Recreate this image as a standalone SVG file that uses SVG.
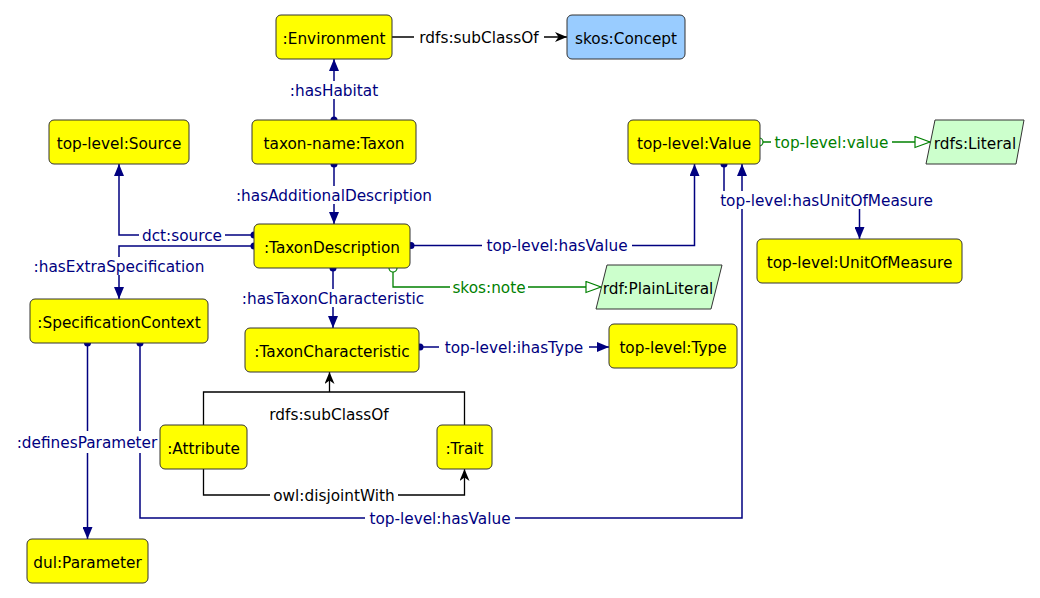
<svg xmlns="http://www.w3.org/2000/svg" width="1040" height="598" viewBox="0 0 1040 598">
<defs>
<style>
text{font-family:"DejaVu Sans","Liberation Sans",sans-serif;font-size:15.3px;text-anchor:middle}
.node rect{fill:#ffff00;stroke:#333;stroke-width:1}
.node .blue{fill:#99ccff}
.node polygon{fill:#ccffcc;stroke:#333;stroke-width:1}
.node text{fill:#000}
.obj{fill:none;stroke:#000080;stroke-width:1.5}
.dat{fill:none;stroke:#008000;stroke-width:1.3}
.sub{fill:none;stroke:#000;stroke-width:1.3}
.dot{fill:#000080;stroke:none}
.odot{fill:#fff;stroke:#008000;stroke-width:1.2}
.lbl rect{fill:#fff;stroke:none}
.ln{fill:#000080}
.lg{fill:#008000}
.lk{fill:#000}
</style>
<marker id="aNavy" viewBox="0 0 12 10" refX="12" refY="5" markerWidth="12" markerHeight="10" markerUnits="userSpaceOnUse" orient="auto"><path d="M0,0 L12,5 L0,10 z" fill="#000080"/></marker>
<marker id="aBlack" viewBox="0 0 12 10" refX="12" refY="5" markerWidth="12" markerHeight="10" markerUnits="userSpaceOnUse" orient="auto"><path d="M0,0 L12,5 L0,10 L3.5,5 z" fill="#000"/></marker>
<marker id="aOpen" viewBox="-1 -1 17 13" refX="15" refY="5.5" markerWidth="17" markerHeight="13" markerUnits="userSpaceOnUse" orient="auto"><path d="M0,0 L15,5.5 L0,11 z" fill="#fff" stroke="#008000" stroke-width="1.2"/></marker>
</defs>
<rect width="1040" height="598" fill="#fff"/>

<g id="connectors">
<path class="sub" d="M392,37 H567" marker-end="url(#aBlack)"/>
<path class="obj" d="M334,120 V59" marker-end="url(#aNavy)"/>
<path class="obj" d="M334,164 V224" marker-end="url(#aNavy)"/>
<path class="obj" d="M254,235 H119 V164" marker-end="url(#aNavy)"/>
<path class="obj" d="M254,246 H119 V299" marker-end="url(#aNavy)"/>
<path class="obj" d="M333,268 V328" marker-end="url(#aNavy)"/>
<path class="obj" d="M411,245.5 H694.5 V164" marker-end="url(#aNavy)"/>
<path class="dat" d="M393,272 V287 H601" marker-end="url(#aOpen)"/>
<path class="dat" d="M763,142 H930" marker-end="url(#aOpen)"/>
<path class="obj" d="M724,164 V200 H859.5 V239" marker-end="url(#aNavy)"/>
<path class="obj" d="M420,347 H609" marker-end="url(#aNavy)"/>
<path class="sub" d="M203.5,425 V392 H464.5 V425"/>
<path class="sub" d="M329.5,392 V372" marker-end="url(#aBlack)"/>
<path class="sub" d="M203.5,469 V495 H464.5 V469" marker-end="url(#aBlack)"/>
<path class="obj" d="M87.5,343 V539" marker-end="url(#aNavy)"/>
<path class="obj" d="M140,343 V518 H742 V164" marker-end="url(#aNavy)"/>
<circle class="dot" cx="334" cy="120" r="3.5"/>
<circle class="dot" cx="334" cy="164" r="3.5"/>
<circle class="dot" cx="254" cy="235" r="3.5"/>
<circle class="dot" cx="254" cy="246" r="3.5"/>
<circle class="dot" cx="333" cy="268" r="3.5"/>
<circle class="dot" cx="411" cy="245.5" r="3.5"/>
<circle class="dot" cx="724" cy="164" r="3.5"/>
<circle class="dot" cx="420" cy="347" r="3.5"/>
<circle class="dot" cx="87.5" cy="343" r="3.5"/>
<circle class="dot" cx="140" cy="343" r="3.5"/>
<circle class="odot" cx="393" cy="268" r="4"/>
<circle class="odot" cx="759" cy="142" r="4"/>
<g class="lbl">
<rect x="414" y="28" width="130" height="18"/><text class="lk" x="479" y="42.5">rdfs:subClassOf</text>
<rect x="288" y="81" width="92" height="18"/><text class="ln" x="334" y="95.5">:hasHabitat</text>
<rect x="231" y="186" width="205" height="18"/><text class="ln" x="334" y="200.5">:hasAdditionalDescription</text>
<rect x="139" y="226" width="86" height="18"/><text class="ln" x="182" y="240.5">dct:source</text>
<rect x="32" y="257" width="174" height="18"/><text class="ln" x="119" y="271.5">:hasExtraSpecification</text>
<rect x="237" y="289" width="193" height="18"/><text class="ln" x="333" y="303.5">:hasTaxonCharacteristic</text>
<rect x="482" y="236.5" width="150" height="18"/><text class="ln" x="557" y="251">top-level:hasValue</text>
<rect x="450" y="278" width="78" height="18"/><text class="lg" x="489" y="292.5">skos:note</text>
<rect x="771" y="133" width="121" height="18"/><text class="lg" x="831.5" y="147.5">top-level:value</text>
<rect x="716" y="191" width="221" height="18"/><text class="ln" x="826.5" y="205.5">top-level:hasUnitOfMeasure</text>
<rect x="439" y="338" width="150" height="18"/><text class="ln" x="514" y="352.5">top-level:ihasType</text>
<text class="lk" x="329" y="419.5">rdfs:subClassOf</text>
<rect x="270" y="486" width="128" height="18"/><text class="lk" x="334" y="500.5">owl:disjointWith</text>
<rect x="15" y="431" width="145" height="22"/><text class="ln" x="87" y="447.5">:definesParameter</text>
<rect x="365" y="509" width="150" height="18"/><text class="ln" x="440" y="523.5">top-level:hasValue</text>
</g>
</g>

<g id="environment" class="node"><rect x="276" y="15" width="116" height="44" rx="5"/><text x="334" y="43.5">:Environment</text></g>
<g id="skos-concept" class="node"><rect class="blue" x="567" y="15" width="118" height="44" rx="5"/><text x="626" y="43.5">skos:Concept</text></g>
<g id="source" class="node"><rect x="49" y="120" width="140" height="44" rx="5"/><text x="119" y="148.5">top-level:Source</text></g>
<g id="taxon" class="node"><rect x="252" y="120" width="164" height="44" rx="5"/><text x="334" y="148.5">taxon-name:Taxon</text></g>
<g id="value" class="node"><rect x="628" y="120" width="132" height="44" rx="5"/><text x="694" y="148.5">top-level:Value</text></g>
<g id="rdfs-literal" class="node"><polygon points="935,120 1024,120 1016,164 926,164"/><text x="975" y="148.5">rdfs:Literal</text></g>
<g id="taxon-description" class="node"><rect x="254" y="224" width="156" height="44" rx="5"/><text x="332" y="252.5">:TaxonDescription</text></g>
<g id="unit-of-measure" class="node"><rect x="757" y="239" width="205" height="44" rx="5"/><text x="859.5" y="267.5">top-level:UnitOfMeasure</text></g>
<g id="plain-literal" class="node"><polygon points="607,265 722,265 711,309 596,309"/><text x="658" y="293.5">rdf:PlainLiteral</text></g>
<g id="specification-context" class="node"><rect x="30" y="299" width="178" height="44" rx="5"/><text x="119" y="327.5">:SpecificationContext</text></g>
<g id="taxon-characteristic" class="node"><rect x="245" y="328" width="174" height="44" rx="5"/><text x="332" y="356.5">:TaxonCharacteristic</text></g>
<g id="type" class="node"><rect x="609" y="324" width="128" height="44" rx="5"/><text x="673" y="352.5">top-level:Type</text></g>
<g id="attribute" class="node"><rect x="160" y="425" width="87" height="44" rx="5"/><text x="203.5" y="453.5">:Attribute</text></g>
<g id="trait" class="node"><rect x="437" y="425" width="55" height="44" rx="5"/><text x="464.5" y="453.5">:Trait</text></g>
<g id="parameter" class="node"><rect x="27" y="539" width="121" height="44" rx="5"/><text x="87.5" y="567.5">dul:Parameter</text></g>
</svg>
